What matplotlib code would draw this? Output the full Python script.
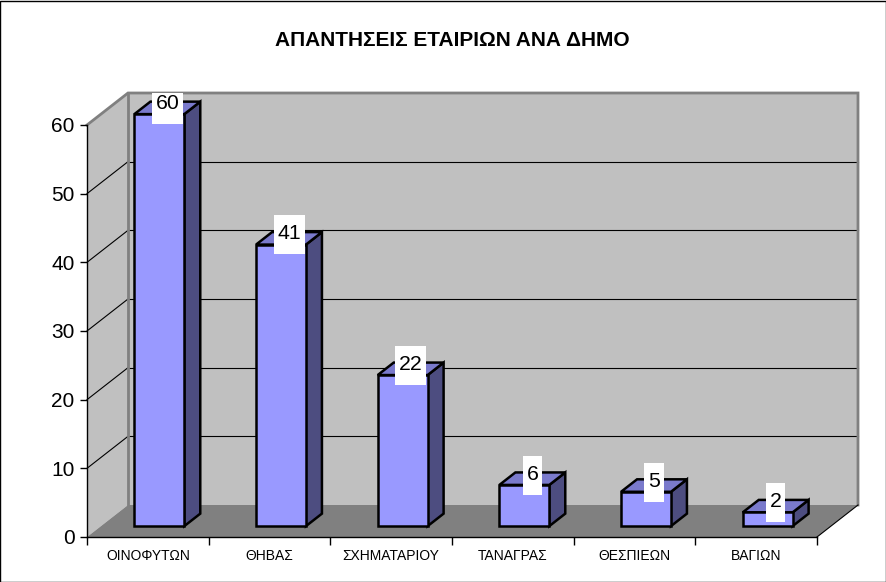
import matplotlib
matplotlib.use("Agg")
import matplotlib.pyplot as plt
from matplotlib.patches import Polygon, Rectangle
import matplotlib.transforms as mtransforms

plt.rcParams['font.family'] = ['Liberation Sans', 'DejaVu Sans']

categories = ["ΟΙΝΟΦΥΤΩΝ", "ΘΗΒΑΣ", "ΣΧΗΜΑΤΑΡΙΟΥ", "ΤΑΝΑΓΡΑΣ", "ΘΕΣΠΙΕΩΝ", "ΒΑΓΙΩΝ"]
values = [60, 41, 22, 6, 5, 2]
yticks = [0, 10, 20, 30, 40, 50, 60]
title = "ΑΠΑΝΤΗΣΕΙΣ ΕΤΑΙΡΙΩΝ ΑΝΑ ΔΗΜΟ"

W, H = 887, 582
fig = plt.figure(figsize=(W / 100, H / 100), dpi=100)
ax = fig.add_axes([87 / W, (H - 537) / H, 730 / W, 412 / H])
n = len(categories)
ymax = 60
ax.set_xlim(0, n)
ax.set_ylim(0, ymax)

# depth offsets in data units
dx = 41 / (730 / n)
dy = 32 / (412 / ymax)

wall_c = "#c0c0c0"
floor_c = "#808080"
edge_gray = "#808080"

# back wall
ax.add_patch(Polygon([(dx, dy), (n + dx, dy), (n + dx, ymax + dy), (dx, ymax + dy)],
                     closed=True, facecolor=wall_c, edgecolor='none', clip_on=False, zorder=0.5))
# left wall
ax.add_patch(Polygon([(0, 0), (dx, dy), (dx, ymax + dy), (0, ymax)],
                     closed=True, facecolor=wall_c, edgecolor='none', clip_on=False, zorder=0.5))
# floor
ax.add_patch(Polygon([(0, 0), (n, 0), (n + dx, dy), (dx, dy)],
                     closed=True, facecolor=floor_c, edgecolor='none', clip_on=False, zorder=0.6))

# gridlines
for v in yticks[1:-1]:
    ax.plot([dx, n + dx], [v + dy, v + dy], color='black', lw=0.8, clip_on=False, zorder=0.7)
    ax.plot([0, dx], [v, v + dy], color='black', lw=0.8, clip_on=False, zorder=0.7)
# wall borders
ax.plot([0, dx, n + dx, n + dx], [ymax, ymax + dy, ymax + dy, dy], color=edge_gray, lw=2,
        clip_on=False, zorder=0.8, solid_joinstyle='miter')
ax.plot([dx, dx], [dy, ymax + dy], color=edge_gray, lw=2, clip_on=False, zorder=0.8)
ax.plot([n, n + dx], [0, dy], color='black', lw=0.8, clip_on=False, zorder=0.8)

# clip region for label boxes (top of the back wall)
clipbox = mtransforms.TransformedBbox(mtransforms.Bbox([[-1, -20], [n + 2, ymax + dy]]), ax.transData)

# bars
f0, f1 = 0.34, 0.73
bl, bw = 0.275, 0.41
front_c, top_c, side_c = "#9999ff", "#7a7acc", "#4d4d80"
lift = 0.035  # inches, label lift above the top-face centre
for i, v in enumerate(values):
    xl = i + bl + f0 * dx
    xr = xl + bw
    y0 = f0 * dy
    ddx = (f1 - f0) * dx
    ddy = (f1 - f0) * dy
    kw = dict(closed=True, edgecolor='black', lw=1.8, clip_on=False, zorder=2, joinstyle='miter')
    ax.add_patch(Polygon([(xr, y0), (xr + ddx, y0 + ddy), (xr + ddx, v + y0 + ddy), (xr, v + y0)],
                         facecolor=side_c, **kw))
    ax.add_patch(Polygon([(xl, v + y0), (xr, v + y0), (xr + ddx, v + y0 + ddy), (xl + ddx, v + y0 + ddy)],
                         facecolor=top_c, **kw))
    ax.add_patch(Polygon([(xl, y0), (xr, y0), (xr, v + y0), (xl, v + y0)],
                         facecolor=front_c, **kw))
    # label
    cx = (xl + xr) / 2 + ddx / 2
    cy = v + y0 + ddy / 2
    txt = str(v)
    bwid = (len(txt) * 11.5 + 8) / 100
    bhei = 39 / 100
    trans = fig.dpi_scale_trans + mtransforms.ScaledTranslation(cx, cy, ax.transData)
    r = Rectangle((-bwid / 2, -bhei / 2 + lift), bwid, bhei, transform=trans,
                  facecolor='white', edgecolor='none', zorder=3)
    ax.add_patch(r)
    r.set_clip_path(None)
    r.set_clip_box(clipbox)
    r.set_clip_on(True)
    ttrans = mtransforms.offset_copy(ax.transData, fig=fig, x=0, y=(lift + 0.01) * 72, units='points')
    ax.text(cx, cy, txt, ha='center', va='center', fontsize=15.3, zorder=4, clip_on=False,
            transform=ttrans)

# axes
for s in ['top', 'right']:
    ax.spines[s].set_visible(False)
for s in ['left', 'bottom']:
    ax.spines[s].set_color('black')
    ax.spines[s].set_linewidth(1.0)
    ax.spines[s].set_zorder(5)
ax.set_facecolor('none')
ax.set_yticks(yticks)
ax.set_yticklabels([str(t) for t in yticks], fontsize=15)
ax.tick_params(axis='y', direction='out', length=5, width=1, pad=4)
ax.set_xticks(range(n + 1))
ax.set_xticklabels([''] * (n + 1))
ax.tick_params(axis='x', which='major', direction='out', length=6, width=1)
ax.set_xticks([i + 0.5 for i in range(n)], minor=True)
ax.set_xticklabels(categories, minor=True, fontsize=10)
ax.tick_params(axis='x', which='minor', length=0, pad=9)

fig.text(452 / W, 1 - 41 / H, title, ha='center', va='center', fontsize=15, fontweight='bold')

fig.patches.append(Rectangle((0.5 / W, 0.5 / H), 1 - 1.5 / W, 1 - 1.5 / H, transform=fig.transFigure,
                             fill=False, edgecolor='black', lw=1))

fig.savefig("out.png", dpi=100)
